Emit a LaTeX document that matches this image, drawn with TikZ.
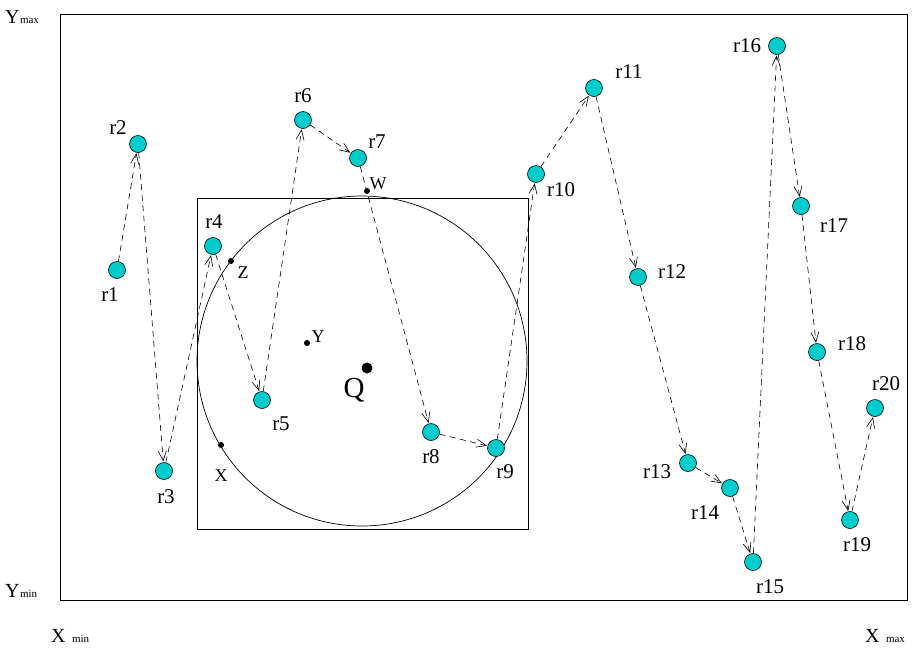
\documentclass[tikz,border=0pt]{standalone}
\usepackage{fontspec}
\setmainfont{Liberation Serif}
\usetikzlibrary{arrows.meta}
\definecolor{nodecyan}{RGB}{0,204,204}
\tikzset{
  rnode/.style={circle,draw=black,line width=0.6pt,fill=nodecyan,minimum size=17pt,inner sep=0pt},
  rlab/.style={font=\fontsize{21}{23}\selectfont,inner sep=0pt},
  plab/.style={font=\fontsize{18}{20}\selectfont,inner sep=0pt},
  pdot/.style={circle,fill=black,minimum size=6pt,inner sep=0pt},
  hop/.style={dashed,dash pattern=on 6pt off 4.5pt,line width=0.6pt,-{Straight Barb[length=10pt,width=8pt,line width=0.6pt]},shorten >=0.5pt},
  axlab/.style={font=\fontsize{20}{22}\selectfont,inner sep=0pt},
  sublab/.style={font=\fontsize{11}{13}\selectfont,inner sep=0pt}
}
\begin{document}
\begin{tikzpicture}[x=1pt,y=-1pt]
\useasboundingbox (0,0) rectangle (919,649);
% search area and query window
\draw[line width=1pt] (60,14) rectangle (907,600);
\draw[line width=0.7pt] (197,198) rectangle (528,529);
\draw[line width=0.7pt] (362,361) circle (165);
% query point
\node[circle,fill=black,minimum size=11pt,inner sep=0pt] (q) at (367,368) {};
\node[font=\fontsize{29}{31}\selectfont,inner sep=0pt] (qlab) at (354,390) {Q};
% marked points
\node[pdot] (w) at (367,191) {};
\node[plab] (wlab) at (378,184) {W};
\node[pdot] (z) at (231,261) {};
\node[plab] (zlab) at (243,273) {Z};
\node[pdot] (y) at (307,343) {};
\node[plab] (ylab) at (318,337) {Y};
\node[pdot] (x) at (221,445) {};
\node[plab] (xlab) at (221,476) {X};
% trajectory samples
\node[rnode] (r1) at (117,270) {};
\node[rnode] (r2) at (138,144) {};
\node[rnode] (r3) at (164,471) {};
\node[rnode] (r4) at (213,246) {};
\node[rnode] (r5) at (262,400) {};
\node[rnode] (r6) at (303,120) {};
\node[rnode] (r7) at (358,158) {};
\node[rnode] (r8) at (431,432) {};
\node[rnode] (r9) at (496,448) {};
\node[rnode] (r10) at (536,174) {};
\node[rnode] (r11) at (594,88) {};
\node[rnode] (r12) at (638,277) {};
\node[rnode] (r13) at (688,463) {};
\node[rnode] (r14) at (730,488) {};
\node[rnode] (r15) at (753,562) {};
\node[rnode] (r16) at (777,46) {};
\node[rnode] (r17) at (801,206) {};
\node[rnode] (r18) at (817,352) {};
\node[rnode] (r19) at (850,520) {};
\node[rnode] (r20) at (875,408) {};
% sample labels
\node[rlab] at (110,295) {r1};
\node[rlab] at (118,128) {r2};
\node[rlab] at (166,497) {r3};
\node[rlab] at (214,222) {r4};
\node[rlab] at (281,424) {r5};
\node[rlab] at (303,96) {r6};
\node[rlab] at (377,142) {r7};
\node[rlab] at (431,457) {r8};
\node[rlab] at (505,472) {r9};
\node[rlab] at (561,190) {r10};
\node[rlab] at (629,72) {r11};
\node[rlab] at (672,272) {r12};
\node[rlab] at (657,472) {r13};
\node[rlab] at (705,513) {r14};
\node[rlab] at (770,587) {r15};
\node[rlab] at (747,46) {r16};
\node[rlab] at (834,226) {r17};
\node[rlab] at (852,344) {r18};
\node[rlab] at (857,545) {r19};
\node[rlab] at (886,384) {r20};
% trajectory hops
\foreach \a/\b in {r1/r2,r2/r3,r3/r4,r4/r5,r5/r6,r6/r7,r7/r8,r8/r9,r9/r10,r10/r11,r11/r12,r12/r13,r13/r14,r14/r15,r15/r16,r16/r17,r17/r18,r18/r19,r19/r20}
  \draw[hop] (\a) -- (\b);
% axis extents
\node[axlab,anchor=base west] (ymax) at (5,23) {Y};
\node[sublab,anchor=base west] at (ymax.base east) {max};
\node[axlab,anchor=base west] (ymin) at (5,597) {Y};
\node[sublab,anchor=base west] at (ymin.base east) {min};
\node[axlab,anchor=base west] (xmin) at (51,642) {X};
\node[sublab,anchor=base west] at ([xshift=6pt]xmin.base east) {min};
\node[axlab,anchor=base west] (xmax) at (865,642) {X};
\node[sublab,anchor=base west] at ([xshift=6pt]xmax.base east) {max};
\end{tikzpicture}
\end{document}
